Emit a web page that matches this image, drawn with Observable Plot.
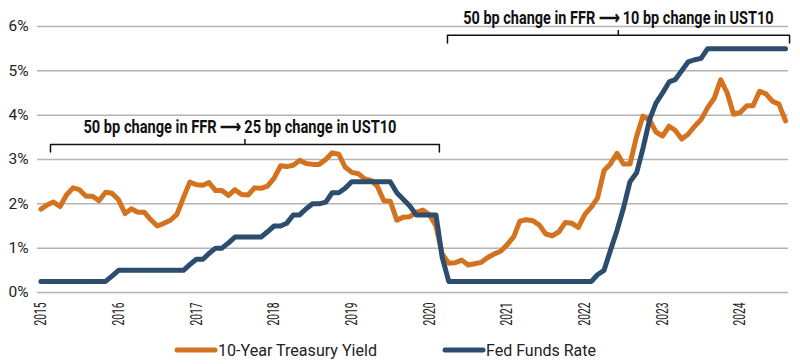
<!DOCTYPE html>
<html>
<head>
<meta charset="utf-8">
<script src="https://cdn.jsdelivr.net/npm/d3@7"></script>
<script src="https://cdn.jsdelivr.net/npm/@observablehq/plot@0.6"></script>
<style>
  html, body { margin: 0; padding: 0; background: #fff; }
  #chart { width: 800px; }
  svg { overflow: visible; }
</style>
</head>
<body>
<div id="chart"></div>
<div id="legend"></div>
<script>
// ---- Data (monthly, Jan 2015 – Aug 2024) ----
const firstMonth = "2015-01-01";
const monthCount = 116;

const ust10 = [
  // 2015
  1.88, 1.98, 2.04, 1.94, 2.20, 2.36, 2.32, 2.17, 2.17, 2.07, 2.26, 2.24,
  // 2016
  2.09, 1.78, 1.89, 1.81, 1.81, 1.64, 1.50, 1.56, 1.63, 1.76, 2.14, 2.49,
  // 2017
  2.43, 2.42, 2.48, 2.30, 2.30, 2.19, 2.32, 2.21, 2.20, 2.36, 2.35, 2.40,
  // 2018
  2.58, 2.86, 2.84, 2.87, 2.98, 2.91, 2.89, 2.89, 3.00, 3.15, 3.12, 2.83,
  // 2019
  2.71, 2.68, 2.57, 2.53, 2.40, 2.07, 2.06, 1.63, 1.70, 1.71, 1.81, 1.86,
  // 2020
  1.76, 1.50, 0.87, 0.66, 0.67, 0.73, 0.62, 0.65, 0.68, 0.79, 0.87, 0.93,
  // 2021
  1.08, 1.26, 1.61, 1.64, 1.62, 1.52, 1.32, 1.28, 1.37, 1.58, 1.56, 1.47,
  // 2022
  1.76, 1.93, 2.13, 2.75, 2.90, 3.14, 2.90, 2.90, 3.52, 3.98, 3.89, 3.62,
  // 2023
  3.53, 3.75, 3.66, 3.46, 3.57, 3.75, 3.90, 4.17, 4.38, 4.80, 4.50, 4.02,
  // 2024
  4.06, 4.21, 4.21, 4.54, 4.48, 4.31, 4.25, 3.87
];

const ffr = [
  // 2015
  0.25, 0.25, 0.25, 0.25, 0.25, 0.25, 0.25, 0.25, 0.25, 0.25, 0.25, 0.37,
  // 2016
  0.50, 0.50, 0.50, 0.50, 0.50, 0.50, 0.50, 0.50, 0.50, 0.50, 0.50, 0.63,
  // 2017
  0.75, 0.75, 0.88, 1.00, 1.00, 1.12, 1.25, 1.25, 1.25, 1.25, 1.25, 1.37,
  // 2018
  1.50, 1.50, 1.56, 1.75, 1.75, 1.89, 2.00, 2.00, 2.04, 2.25, 2.25, 2.35,
  // 2019
  2.50, 2.50, 2.50, 2.50, 2.50, 2.50, 2.50, 2.25, 2.10, 1.95, 1.75, 1.75,
  // 2020
  1.75, 1.75, 0.80, 0.25, 0.25, 0.25, 0.25, 0.25, 0.25, 0.25, 0.25, 0.25,
  // 2021
  0.25, 0.25, 0.25, 0.25, 0.25, 0.25, 0.25, 0.25, 0.25, 0.25, 0.25, 0.25,
  // 2022
  0.25, 0.25, 0.40, 0.50, 0.95, 1.40, 1.90, 2.50, 2.70, 3.25, 3.90, 4.27,
  // 2023
  4.50, 4.75, 4.80, 5.00, 5.20, 5.25, 5.28, 5.50, 5.50, 5.50, 5.50, 5.50,
  // 2024
  5.50, 5.50, 5.50, 5.50, 5.50, 5.50, 5.50, 5.50
];

const seriesNames = ["10-Year Treasury Yield", "Fed Funds Rate"];
const yTicks = [0, 1, 2, 3, 4, 5, 6];
const yearTicks = [2015, 2016, 2017, 2018, 2019, 2020, 2021, 2022, 2023, 2024];

// Annotation brackets (in data units: dates and percent)
const annotationLabels = [
  "50 bp change in FFR \u27F6 25 bp change in UST10",
  "50 bp change in FFR \u27F6 10 bp change in UST10"
];
const bracketStart = ["2015-02-15", "2020-03-26"];
const bracketEnd   = ["2020-02-17", "2024-08-20"];
const bracketMid   = ["2017-08-17", "2022-06-07"];
const labelAt      = ["2015-07-20", "2024-06-06"];
const labelAnchor  = ["start", "end"];
const bracketLevel = [3.34, 5.80];

// ---- Styles ----
const colors = ["#D4731F", "#2C4D6E"];
const labelWidths = [314, 311];
const legendTextWidths = [159, 110];

// ---- Build tables ----
const months = d3.utcMonth.range(new Date(firstMonth), d3.utcMonth.offset(new Date(firstMonth), monthCount));
const rows = [];
months.forEach((d, i) => {
  rows.push({date: d, value: ust10[i], series: seriesNames[0]});
});
months.forEach((d, i) => {
  rows.push({date: d, value: ffr[i], series: seriesNames[1]});
});

const ann = annotationLabels.map((label, i) => ({
  label,
  x1: new Date(bracketStart[i]),
  x2: new Date(bracketEnd[i]),
  xm: new Date(bracketMid[i]),
  xt: new Date(labelAt[i]),
  anchor: labelAnchor[i],
  y: bracketLevel[i],
  yEnd: bracketLevel[i] - 0.17,
  yTop: bracketLevel[i] + 0.11,
  yText: bracketLevel[i] + 0.39,
  idx: i
}));
const bracketPts = ann.flatMap(a => [
  {k: a.idx, x: a.x1, y: a.yEnd},
  {k: a.idx, x: a.x1, y: a.y},
  {k: a.idx, x: a.x2, y: a.y},
  {k: a.idx, x: a.x2, y: a.yEnd}
]);

const chart = Plot.plot({
  width: 800,
  height: 332,
  marginLeft: 37,
  marginRight: 12,
  marginTop: 26,
  marginBottom: 40,
  style: {fontFamily: "Roboto, sans-serif", fontSize: "15px", color: "#222", background: "#fff", overflow: "visible"},
  x: {type: "utc", domain: [new Date("2014-12-16"), new Date("2024-08-15")]},
  y: {domain: [0, 6]},
  color: {domain: seriesNames, range: colors},
  marks: [
    Plot.gridY(yTicks, {stroke: "#b4b4b4", strokeOpacity: 1, strokeWidth: 1.5}),
    Plot.axisY(yTicks, {tickSize: 0, tickPadding: 9, tickFormat: d => d + "%", fontSize: 15.5}),
    Plot.axisX(yearTicks.map(y => new Date(Date.UTC(y, 0, 1))), {tickSize: 0, tickRotate: -90, tickFormat: d => String(d.getUTCFullYear()), tickPadding: 10, fontSize: 16}),
    Plot.line(rows, {x: "date", y: "value", z: "series", stroke: "series", strokeWidth: 5, strokeLinejoin: "round", strokeLinecap: "round"}),
    Plot.line(bracketPts, {x: "x", y: "y", z: "k", stroke: "#111", strokeWidth: 1.5}),
    Plot.ruleX(ann, {x: "xm", y1: "y", y2: "yTop", stroke: "#111", strokeWidth: 1.5}),
    Plot.text(ann.filter(a => a.anchor === "start"), {x: "xt", y: "yText", text: "label", fontWeight: "bold", fontSize: 18, fill: "#111", textAnchor: "start"}),
    Plot.text(ann.filter(a => a.anchor === "end"), {x: "xt", y: "yText", text: "label", fontWeight: "bold", fontSize: 18, fill: "#111", textAnchor: "end"})
  ]
});
document.getElementById("chart").appendChild(chart);

// compress texts to the reference's condensed widths
const svgSel = d3.select(chart);
svgSel.selectAll('g[aria-label="x-axis tick label"] text')
  .attr("textLength", 23).attr("lengthAdjust", "spacingAndGlyphs");
svgSel.selectAll('g[aria-label="text"] text').each(function() {
  const sel = d3.select(this);
  const idx = annotationLabels.indexOf(sel.text());
  if (idx < 0) return;
  const natural = this.getComputedTextLength();
  const k = labelWidths[idx] / natural;
  const tr = sel.attr("transform") || "";
  sel.attr("transform", `${tr} scale(${k},1)`);
});

// ---- Legend ----
const lg = d3.select("#legend").append("svg").attr("width", 800).attr("height", 32)
  .style("font-family", "Roboto, sans-serif");
const legendX = [177, 445];
seriesNames.forEach((name, i) => {
  const g = lg.append("g").attr("transform", `translate(${legendX[i]},0)`);
  g.append("line").attr("x1", 0).attr("x2", 38).attr("y1", 18).attr("y2", 18)
    .attr("stroke", colors[i]).attr("stroke-width", 5).attr("stroke-linecap", "round");
  g.append("text").attr("x", 41).attr("y", 24).attr("font-size", 16.5).attr("fill", "#222")
    .attr("textLength", legendTextWidths[i]).attr("lengthAdjust", "spacingAndGlyphs")
    .text(name);
});
</script>
</body>
</html>
